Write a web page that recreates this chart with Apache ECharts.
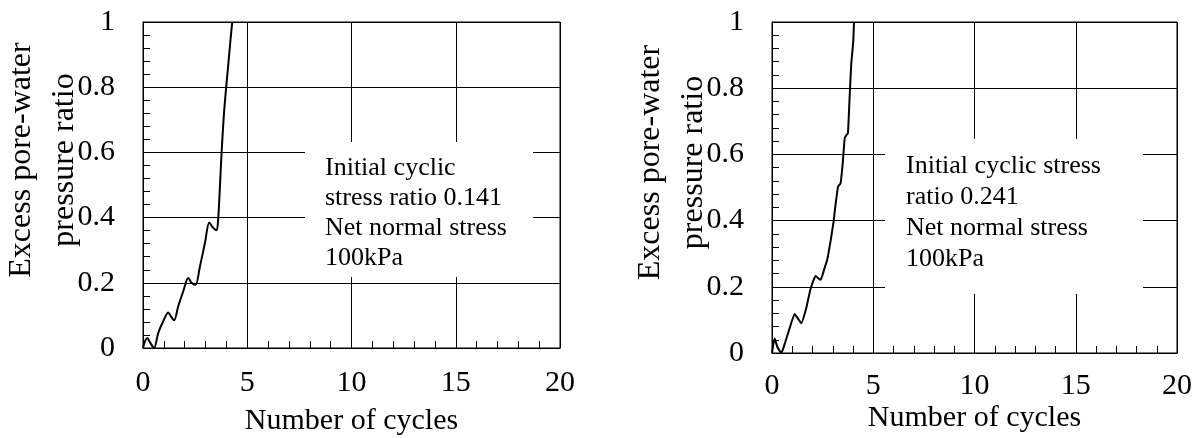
<!DOCTYPE html>
<html>
<head>
<meta charset="utf-8">
<script src="https://cdn.jsdelivr.net/npm/echarts@6/dist/echarts.min.js"></script>
<style>
  html, body { margin: 0; padding: 0; background: #fff; }
  #chart { width: 1199px; height: 438px; }
</style>
</head>
<body>
<div id="chart"></div>
<script>
// left plot: initial cyclic stress ratio 0.141
var leftCycles = [0, 0.1, 0.21, 0.33, 0.53, 0.73, 0.97, 1.21, 1.33, 1.49, 1.69, 1.93, 2.17, 2.33, 2.52, 2.73, 2.97, 3.18, 3.35, 3.53, 3.6, 3.67, 3.77, 3.88, 3.99, 4.09, 4.19, 4.28];
var leftRatio  = [0, 0.022, 0.031, 0.018, 0.0, 0.046, 0.082, 0.109, 0.098, 0.085, 0.128, 0.174, 0.215, 0.2, 0.194, 0.25, 0.322, 0.385, 0.37, 0.361, 0.39, 0.47, 0.601, 0.716, 0.80, 0.869, 0.941, 1.0];
// right plot: initial cyclic stress ratio 0.241
var rightCycles = [0, 0.06, 0.13, 0.26, 0.46, 0.66, 0.87, 1.12, 1.28, 1.45, 1.69, 1.91, 2.16, 2.28, 2.40, 2.57, 2.73, 2.90, 3.04, 3.14, 3.26, 3.33, 3.39, 3.50, 3.59, 3.67, 3.75, 3.83, 3.91, 4.01, 4.05];
var rightRatio  = [0, 0.025, 0.044, 0.019, 0, 0.034, 0.075, 0.118, 0.104, 0.09, 0.135, 0.195, 0.233, 0.226, 0.221, 0.251, 0.283, 0.341, 0.397, 0.449, 0.502, 0.508, 0.513, 0.578, 0.649, 0.658, 0.664, 0.769, 0.870, 0.94, 1.0];

var xTicks = [0, 5, 10, 15, 20];
var yTicks = [0, 0.2, 0.4, 0.6, 0.8, 1];
var leftNote = ['Initial cyclic', 'stress ratio 0.141', 'Net normal stress', '100kPa'];
var rightNote = ['Initial cyclic stress', 'ratio 0.241', 'Net normal stress', '100kPa'];

var FONT = '"Liberation Serif", "Times New Roman", serif';

function pairs(xs, ys) {
    var out = [];
    for (var i = 0; i < xs.length; i++) out.push([xs[i], ys[i]]);
    return out;
}

function makeX(idx, labelMargin, nameGap) {
    return {
        type: 'value', gridIndex: idx,
        min: xTicks[0], max: xTicks[xTicks.length - 1], interval: xTicks[1] - xTicks[0],
        name: 'Number of cycles', nameLocation: 'middle', nameGap: nameGap, nameMoveOverlap: false,
        nameTextStyle: { fontFamily: FONT, fontSize: 30, color: '#000' },
        axisLine: { show: true, lineStyle: { color: '#000', width: 1 } },
        axisTick: { show: true, inside: true, length: 7, lineStyle: { color: '#000' } },
        minorTick: { show: true, splitNumber: 5, length: 7, lineStyle: { color: '#000', width: 1 } },
        splitLine: { show: true, lineStyle: { color: '#000', width: 1 } },
        axisLabel: { fontFamily: FONT, fontSize: 30, color: '#000', margin: labelMargin }
    };
}

function makeY(idx) {
    return {
        type: 'value', gridIndex: idx,
        min: yTicks[0], max: yTicks[yTicks.length - 1], interval: yTicks[1] - yTicks[0],
        name: 'Excess pore-water\npressure ratio', nameLocation: 'middle', nameRotate: 90,
        nameGap: 57, nameMoveOverlap: false,
        nameTextStyle: { fontFamily: FONT, fontSize: 32, color: '#000', lineHeight: 43, padding: [0, 0, 0, 50] },
        axisLine: { show: true, lineStyle: { color: '#000', width: 1 } },
        axisTick: { show: true, inside: true, length: 7, lineStyle: { color: '#000' } },
        minorTick: { show: true, splitNumber: 5, length: 7, lineStyle: { color: '#000', width: 1 } },
        splitLine: { show: true, lineStyle: { color: '#000', width: 1 } },
        axisLabel: {
            fontFamily: FONT, fontSize: 30, color: '#000', margin: 28,
            formatter: function (v) { return v === 0 ? '0' : v === 1 ? '1' : String(+v.toFixed(1)); }
        }
    };
}

function note(lines, x, y, w, h, tx, ty, lh) {
    return [
        { type: 'rect', z: 100, shape: { x: x, y: y, width: w, height: h }, style: { fill: '#fff' } },
        { type: 'text', z: 101, x: tx, y: ty,
          style: { text: lines.join('\n'), fill: '#000', font: '26px ' + FONT, lineHeight: lh, verticalAlign: 'top' } }
    ];
}

var chart = echarts.init(document.getElementById('chart'));
var option = {
    animation: false,
    grid: [
        { left: 143, top: 22, width: 417, height: 326, show: true, borderColor: '#000', borderWidth: 1,
          containLabel: false, outerBoundsMode: 'none' },
        { left: 772, top: 22, width: 405, height: 331, show: true, borderColor: '#000', borderWidth: 1,
          containLabel: false, outerBoundsMode: 'none' }
    ],
    xAxis: [makeX(0, 20, 58), makeX(1, 18, 50)],
    yAxis: [makeY(0), makeY(1)],
    series: [
        { type: 'line', xAxisIndex: 0, yAxisIndex: 0, data: pairs(leftCycles, leftRatio),
          showSymbol: false, smooth: 0.3, lineStyle: { color: '#000', width: 2 } },
        { type: 'line', xAxisIndex: 1, yAxisIndex: 1, data: pairs(rightCycles, rightRatio),
          showSymbol: false, smooth: 0.15, lineStyle: { color: '#000', width: 2 } }
    ],
    graphic: note(leftNote, 305, 142, 228, 135, 325, 153, 30)
        .concat(note(rightNote, 885, 139, 258, 155, 906, 151, 31))
};
chart.setOption(option);
</script>
</body>
</html>
